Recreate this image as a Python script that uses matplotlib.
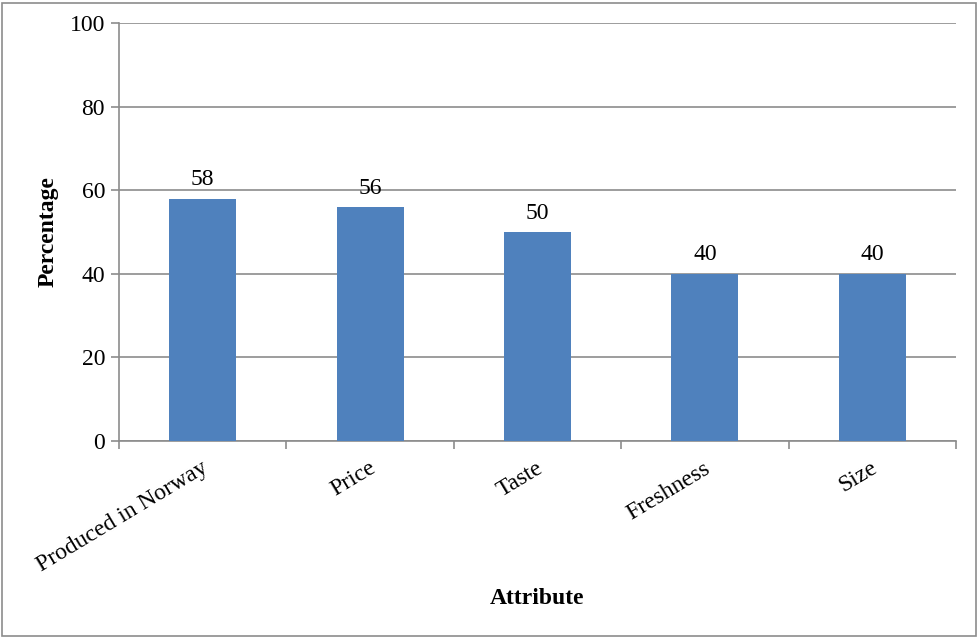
import numpy as np
import matplotlib.pyplot as plt
from matplotlib.patches import Rectangle

# chart data
attributes = ['Produced in Norway', 'Price', 'Taste', 'Freshness', 'Size']
percentages = [58, 56, 50, 40, 40]
y_ticks = [0, 20, 40, 60, 80, 100]

plt.rcParams['font.family'] = ['Liberation Serif', 'DejaVu Serif']
FS = 17

fig = plt.figure(figsize=(9.8, 6.37), dpi=100)
ax = fig.add_axes([0.1214, 0.3077, 0.8541, 0.6562])

x = np.arange(len(attributes))
bars = ax.bar(x, percentages, width=0.4, color='#4F81BD', zorder=3)

# value labels above the bars
for xi, v in zip(x, percentages):
    ax.annotate(str(v), (xi, v), xytext=(0, 6), textcoords='offset points',
                ha='center', va='bottom', fontsize=FS)

ax.set_xlim(-0.5, len(attributes) - 0.5)
ax.set_ylim(0, 100)
ax.set_yticks(y_ticks)
ax.set_yticklabels([str(t) for t in y_ticks], fontsize=FS)
ax.yaxis.grid(True, color='#8c8c8c', linewidth=1.2, zorder=0)

# category boundaries get the tick marks, labels sit at bar centres
ax.set_xticks(np.arange(len(attributes) + 1) - 0.5)
ax.set_xticklabels([])
ax.tick_params(axis='x', direction='out', length=6, color='#8c8c8c', width=1.2)
ax.tick_params(axis='y', direction='out', length=6, color='#8c8c8c', width=1.2, pad=4)
for xi, name in zip(x, attributes):
    ax.text(xi - 0.01, -4.0, name, rotation=31, ha='right', va='top',
            rotation_mode='anchor', fontsize=FS, transform=ax.transData)

for side in ['top', 'right']:
    ax.spines[side].set_visible(False)
for side in ['left', 'bottom']:
    ax.spines[side].set_color('#8c8c8c')
    ax.spines[side].set_linewidth(1.2)

ax.set_ylabel('Percentage', fontsize=FS, fontweight='bold', labelpad=8)
fig.text(537 / 980, 1 - 598 / 637, 'Attribute', ha='center', va='center',
         fontsize=FS, fontweight='bold')

# outer chart border
fig.patches.append(Rectangle((0.002, 0.002), 0.994, 0.994, transform=fig.transFigure,
                             fill=False, edgecolor='#8c8c8c', linewidth=1.2))

fig.savefig('out.png', dpi=100)
